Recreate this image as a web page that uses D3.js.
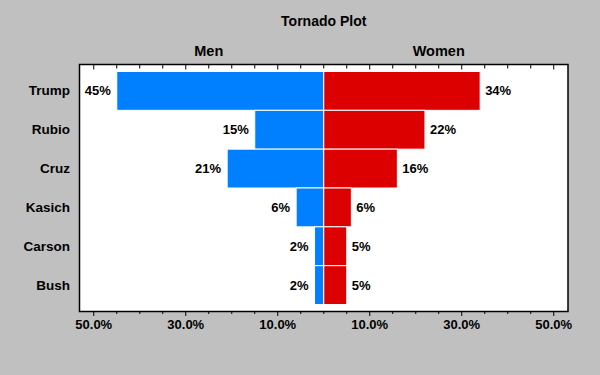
<!DOCTYPE html>
<html>
<head>
<meta charset="utf-8">
<script src="https://cdn.jsdelivr.net/npm/d3@7"></script>
<style>
  html, body { margin: 0; padding: 0; background: #c0c0c0; }
  text { font-family: "Liberation Sans", Arial, sans-serif; font-weight: bold; fill: #000; }
</style>
</head>
<body>
<svg id="chart" width="600" height="375"></svg>
<script>
const candidates = ["Trump", "Rubio", "Cruz", "Kasich", "Carson", "Bush"];
const menValues = [45, 15, 21, 6, 2, 2];
const womenValues = [34, 22, 16, 6, 5, 5];
const tickValues = [-50, -30, -10, 10, 30, 50];

const width = 600, height = 375;
const plotLeft = 79.5, plotRight = 568, plotTop = 64.5, plotBottom = 311.5;

const svg = d3.select('#chart');

// background
svg.append('rect').attr('width', width).attr('height', height).attr('fill', '#c0c0c0');

const x = d3.scaleLinear()
    .domain([-53.1, 53.1])
    .range([plotLeft, plotRight]);

const y = d3.scaleBand()
    .domain(candidates)
    .range([plotTop, plotBottom])
    .paddingOuter(0.18)
    .paddingInner(0);

// plot area
svg.append('rect')
    .attr('x', plotLeft).attr('y', plotTop)
    .attr('width', plotRight - plotLeft).attr('height', plotBottom - plotTop)
    .attr('fill', '#fff');

const rows = candidates.map((c, i) => ({ name: c, men: menValues[i], women: womenValues[i] }));

// men bars (left)
svg.selectAll('rect.men')
    .data(rows)
    .enter()
    .append('rect')
    .attr('class', 'men')
    .attr('x', d => x(-d.men))
    .attr('y', d => y(d.name))
    .attr('width', d => x(0) - x(-d.men))
    .attr('height', y.bandwidth())
    .attr('fill', '#0080ff')
    .attr('stroke', '#fff')
    .attr('stroke-width', 1);

// women bars (right)
svg.selectAll('rect.women')
    .data(rows)
    .enter()
    .append('rect')
    .attr('class', 'women')
    .attr('x', x(0))
    .attr('y', d => y(d.name))
    .attr('width', d => x(d.women) - x(0))
    .attr('height', y.bandwidth())
    .attr('fill', '#dd0000')
    .attr('stroke', '#fff')
    .attr('stroke-width', 1);

// value labels
svg.selectAll('text.menLabel')
    .data(rows)
    .enter()
    .append('text')
    .attr('x', d => x(-d.men) - 6)
    .attr('y', d => y(d.name) + y.bandwidth() / 2 + 4.5)
    .attr('text-anchor', 'end')
    .attr('font-size', '13px')
    .text(d => d.men + '%');

svg.selectAll('text.womenLabel')
    .data(rows)
    .enter()
    .append('text')
    .attr('x', d => x(d.women) + 5)
    .attr('y', d => y(d.name) + y.bandwidth() / 2 + 4.5)
    .attr('text-anchor', 'start')
    .attr('font-size', '13px')
    .text(d => d.women + '%');

// category labels
svg.selectAll('text.cat')
    .data(candidates)
    .enter()
    .append('text')
    .attr('x', 70)
    .attr('y', d => y(d) + y.bandwidth() / 2 + 4.5)
    .attr('text-anchor', 'end')
    .attr('font-size', '13.5px')
    .text(d => d);

// plot border
svg.append('rect')
    .attr('x', plotLeft).attr('y', plotTop)
    .attr('width', plotRight - plotLeft).attr('height', plotBottom - plotTop)
    .attr('fill', 'none')
    .attr('stroke', '#000')
    .attr('stroke-width', 1.5);

// ticks every 5%
const allTicks = d3.range(-50, 51, 5);

// bottom axis ticks (outside)
svg.selectAll('line.btick')
    .data(allTicks)
    .enter()
    .append('line')
    .attr('x1', d => x(d)).attr('x2', d => x(d))
    .attr('y1', plotBottom)
    .attr('y2', d => plotBottom + (tickValues.includes(d) ? 4.5 : 2.5))
    .attr('stroke', '#000')
    .attr('stroke-width', 1);

// top axis ticks (inside)
svg.selectAll('line.ttick')
    .data(allTicks)
    .enter()
    .append('line')
    .attr('x1', d => x(d)).attr('x2', d => x(d))
    .attr('y1', plotTop)
    .attr('y2', d => plotTop + (tickValues.includes(d) ? 5 : 4))
    .attr('stroke', '#000')
    .attr('stroke-width', 1);

// tick labels
svg.selectAll('text.tlabel')
    .data(tickValues)
    .enter()
    .append('text')
    .attr('x', d => x(d))
    .attr('y', 329)
    .attr('text-anchor', 'middle')
    .attr('font-size', '13px')
    .text(d => d3.format('.1f')(Math.abs(d)) + '%');

// titles
svg.append('text')
    .attr('x', x(0))
    .attr('y', 26)
    .attr('text-anchor', 'middle')
    .attr('font-size', '14px')
    .text('Tornado Plot');

svg.append('text')
    .attr('x', x(-25))
    .attr('y', 55.5)
    .attr('text-anchor', 'middle')
    .attr('font-size', '14.5px')
    .text('Men');

svg.append('text')
    .attr('x', x(25))
    .attr('y', 55.5)
    .attr('text-anchor', 'middle')
    .attr('font-size', '14.5px')
    .text('Women');
</script>
</body>
</html>
